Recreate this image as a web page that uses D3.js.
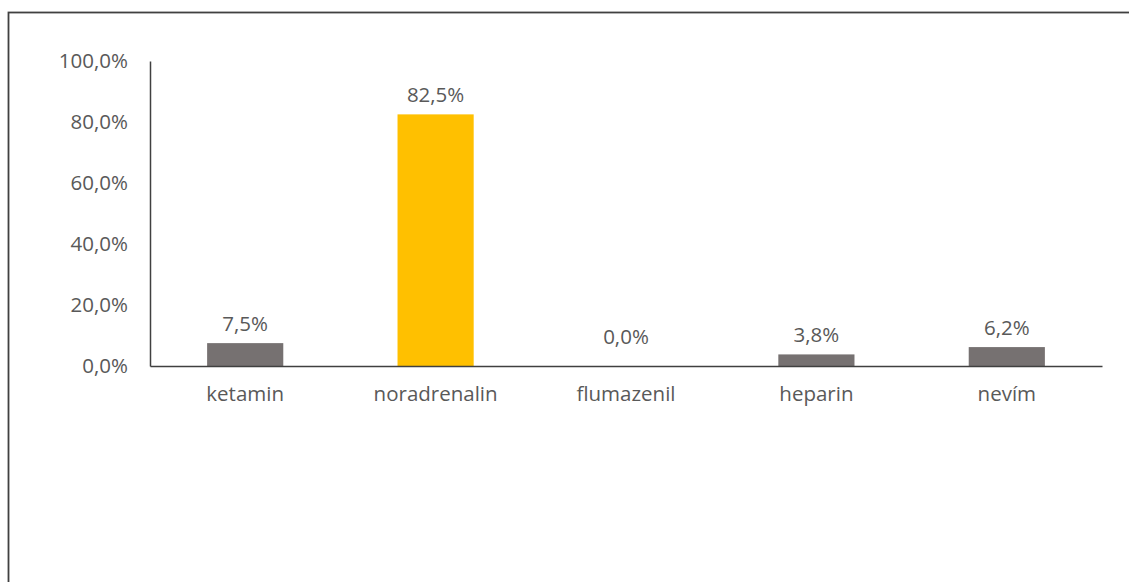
<!DOCTYPE html>
<html>
<head>
<meta charset="utf-8">
<script src="https://cdn.jsdelivr.net/npm/d3@7"></script>
<style>
  html, body { margin: 0; padding: 0; background: #fff; }
  svg { display: block; }
  text { font-family: "Open Sans", "Noto Sans", sans-serif; fill: #595959; }
</style>
</head>
<body>
<svg id="chart" width="1129" height="582"></svg>
<script>
const categories = ["ketamin", "noradrenalin", "flumazenil", "heparin", "nevím"];
const values = [7.5, 82.5, 0.0, 3.8, 6.2];
const barColors = ["#767171", "#FFC000", "#767171", "#767171", "#767171"];
const yTicks = [0, 20, 40, 60, 80, 100];

const svg = d3.select("#chart");
const W = 1129, H = 582;
const margin = { left: 150, right: 27, top: 61, bottom: 216 };
const FS = 20.5;

// outer border (extends past right and bottom edges)
svg.append("rect")
  .attr("x", 8.5).attr("y", 12.5)
  .attr("width", W + 20).attr("height", H + 20)
  .attr("fill", "none").attr("stroke", "#404040").attr("stroke-width", 1.8);

const x = d3.scaleBand()
  .domain(categories)
  .range([margin.left, W - margin.right])
  .paddingInner(0.6).paddingOuter(0.3);

const y = d3.scaleLinear().domain([0, 100]).range([H - margin.bottom, margin.top]);

const fmt = v => d3.format(".1f")(v).replace(".", ",") + "%";

// y axis
const yAxis = svg.append("g")
  .attr("transform", `translate(${margin.left},0)`)
  .call(d3.axisLeft(y).tickValues(yTicks).tickSize(0).tickPadding(22).tickFormat(fmt));
yAxis.select(".domain").attr("stroke", "#404040").attr("stroke-width", 1.5);
yAxis.selectAll("text").attr("font-size", FS).attr("fill", "#595959")
  .style("font-family", '"Open Sans", "Noto Sans", sans-serif');

// bars
svg.append("g").selectAll("rect")
  .data(values)
  .join("rect")
  .attr("x", (d, i) => x(categories[i]))
  .attr("width", x.bandwidth())
  .attr("y", d => y(d))
  .attr("height", d => y(0) - y(d))
  .attr("fill", (d, i) => barColors[i]);

// x axis
const xAxis = svg.append("g")
  .attr("transform", `translate(0,${y(0)})`)
  .call(d3.axisBottom(x).tickSize(0).tickPadding(20).tickSizeOuter(0));
xAxis.select(".domain").attr("stroke", "#404040").attr("stroke-width", 1.5);
xAxis.selectAll("text").attr("font-size", FS).attr("fill", "#595959")
  .style("font-family", '"Open Sans", "Noto Sans", sans-serif');

// value labels
svg.append("g").selectAll("text")
  .data(values)
  .join("text")
  .attr("x", (d, i) => x(categories[i]) + x.bandwidth() / 2)
  .attr("y", d => y(d) - (d === 0 ? 22 : 12))
  .attr("text-anchor", "middle")
  .attr("font-size", FS)
  .attr("fill", "#404040")
  .text(d => fmt(d));
</script>
</body>
</html>
